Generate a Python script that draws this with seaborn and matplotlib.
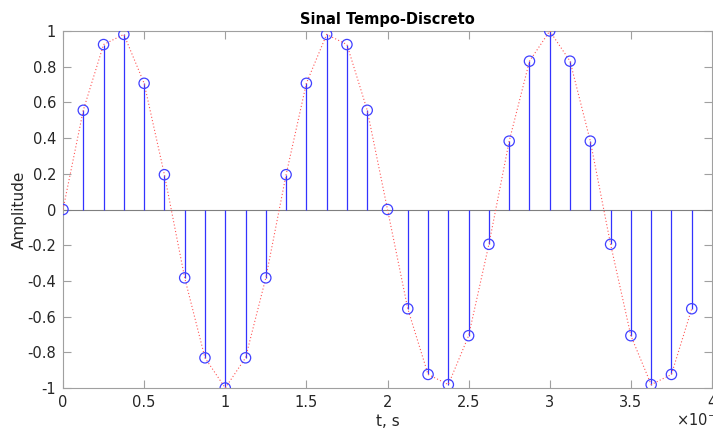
import numpy as np
import pandas as pd
import matplotlib
matplotlib.use("Agg")
import matplotlib.pyplot as plt
import seaborn as sns

# Sample times (s) and amplitudes
t = [0.000, 0.125e-3, 0.250e-3, 0.375e-3, 0.500e-3, 0.625e-3, 0.750e-3, 0.875e-3,
     1.000e-3, 1.125e-3, 1.250e-3, 1.375e-3, 1.500e-3, 1.625e-3, 1.750e-3, 1.875e-3,
     2.000e-3, 2.125e-3, 2.250e-3, 2.375e-3, 2.500e-3, 2.625e-3, 2.750e-3, 2.875e-3,
     3.000e-3, 3.125e-3, 3.250e-3, 3.375e-3, 3.500e-3, 3.625e-3, 3.750e-3, 3.875e-3]
amp = [0.0, 0.556, 0.924, 0.981, 0.707, 0.195, -0.383, -0.831,
       -1.0, -0.831, -0.383, 0.195, 0.707, 0.981, 0.924, 0.556,
       0.0, -0.556, -0.924, -0.981, -0.707, -0.195, 0.383, 0.831,
       1.0, 0.831, 0.383, -0.195, -0.707, -0.981, -0.924, -0.556]
xticks = [0, 0.5, 1, 1.5, 2, 2.5, 3, 3.5, 4]
yticks = [-1, -0.8, -0.6, -0.4, -0.2, 0, 0.2, 0.4, 0.6, 0.8, 1]

sns.set_theme(style="white")
plt.rcParams['font.family'] = ['DejaVu Sans']

df = pd.DataFrame({"t_ms": np.array(t) * 1e3, "amp": amp})

fig = plt.figure(figsize=(7.13, 4.28), dpi=100)
ax = fig.add_axes([63/713, 1 - 388/428, 649/713, (388 - 31)/428])

edge = "#262626"
frame = "#a0a0a0"

# baseline
ax.axhline(0, color="#7f7f7f", lw=0.8, zorder=1)
# stems
ax.vlines(df["t_ms"], 0, df["amp"], color="#3333ff", lw=0.9, zorder=2)
# dotted red line
sns.lineplot(data=df, x="t_ms", y="amp", ax=ax, color="#ff5555", lw=0.8,
             linestyle=(0, (1, 2)), zorder=3)
# markers
sns.scatterplot(data=df, x="t_ms", y="amp", ax=ax, s=55, marker="o",
                facecolor="none", edgecolor="#4040ff", linewidth=0.9, zorder=4)

ax.set_xlim(0, 4)
ax.set_ylim(-1, 1)
ax.set_xticks(xticks)
ax.set_xticklabels([f"{v:g}" for v in xticks])
ax.set_yticks(yticks)
ax.set_yticklabels([f"{v:g}" for v in yticks])

for s in ax.spines.values():
    s.set_color(frame)
    s.set_linewidth(0.8)
    s.set_visible(True)

ax.tick_params(direction="in", length=6, width=0.8, color=frame,
               top=True, right=True, bottom=True, left=True,
               labelsize=10.5, labelcolor=edge, pad=5)

ax.set_title("Sinal Tempo-Discreto", fontsize=10.5, fontweight="bold",
             color="black", pad=5)
ax.set_xlabel("t, s", fontsize=11, color=edge, labelpad=3)
ax.set_ylabel("Amplitude", fontsize=11, color=edge, labelpad=0)

fig.text(676/713, 2.5/428, r"$\times10^{-3}$", fontsize=10.5, color=edge,
         ha="left", va="baseline")

fig.savefig("out.png", dpi=100, facecolor="white")
